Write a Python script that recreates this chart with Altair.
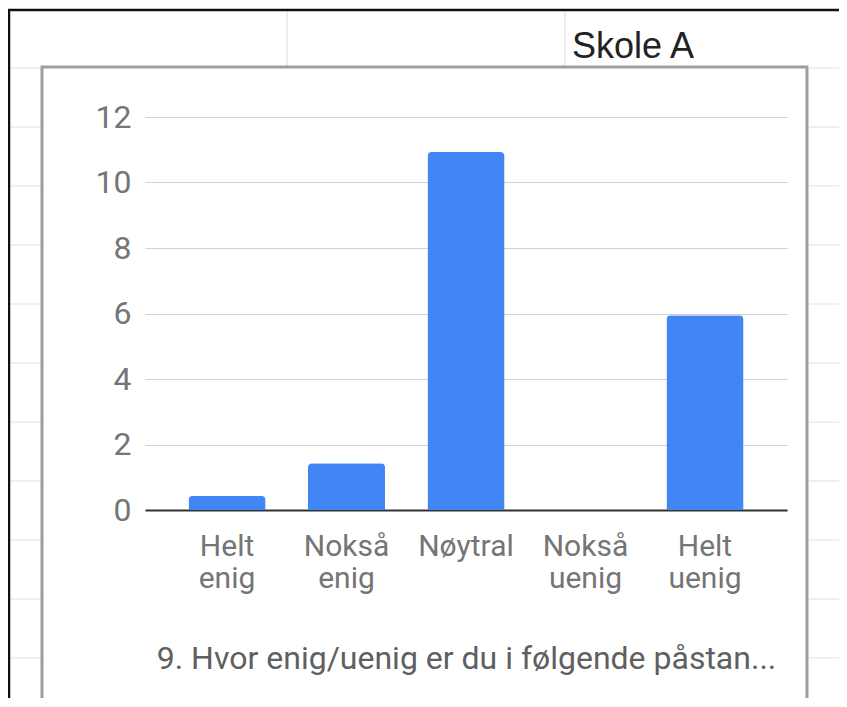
import altair as alt
import pandas as pd

# ---- data ----
categories = ["Helt enig", "Nokså enig", "Nøytral", "Nokså uenig", "Helt uenig"]
counts = [0.43, 1.43, 10.93, 0, 5.95]
y_ticks = [0, 2, 4, 6, 8, 10, 12]
x_title = "9. Hvor enig/uenig er du i følgende påstan..."
cell_text = "Skole A"

# ---- page geometry (plot area placed via padding) ----
PLOT_LEFT, PLOT_TOP = 145, 117      # page px of plot-area origin
W, H = 642, 393                     # plot area size
PAD_L, PAD_T = PLOT_LEFT - 8, PLOT_TOP - 8
TOTAL_W, TOTAL_H = 831, 690


def px(x):
    return x - PLOT_LEFT


def py(y):
    return y - PLOT_TOP


df = pd.DataFrame({"svar": categories, "antall": counts})

# ---- spreadsheet decoration (pixel positions, not data) ----
row_lines = [68, 127, 186, 245, 304, 363, 422, 481, 540, 599, 658]
grid_segs = []
for r in row_lines:
    grid_segs.append((px(8), px(41), py(r), py(r)))
    grid_segs.append((px(809), px(847), py(r), py(r)))
for c in [287, 565]:
    grid_segs.append((px(c), px(c), py(10), py(66)))
grid_df = pd.DataFrame(grid_segs, columns=["x", "x2", "y", "y2"])

black_df = pd.DataFrame(
    [(px(8), px(847), py(10), py(10)), (px(9), px(9), py(10), py(707))],
    columns=["x", "x2", "y", "y2"],
)


def seg_layer(d, color, width):
    return alt.Chart(d).mark_rule(color=color, strokeWidth=width).encode(
        x=alt.X("x:Q", scale=None, axis=None),
        x2="x2:Q",
        y=alt.Y("y:Q", scale=None, axis=None),
        y2="y2:Q",
    )


sheet_grid = seg_layer(grid_df, "#e2e2e2", 1.2)
sheet_black = seg_layer(black_df, "#111111", 2.5)

cell = alt.Chart(pd.DataFrame({"t": [cell_text]})).mark_text(
    align="left", baseline="alphabetic", font="Liberation Sans",
    fontSize=36, color="#222222"
).encode(text="t:N", x=alt.value(px(572)), y=alt.value(py(58)))

frame = alt.Chart(pd.DataFrame({"a": [0]})).mark_rect(
    fillOpacity=0, stroke="#9e9e9e", strokeWidth=3
).encode(
    x=alt.value(px(42)), x2=alt.value(px(807)),
    y=alt.value(py(67)), y2=alt.value(py(760)),
)

bars = alt.Chart(df).mark_bar(
    color="#4285F4", cornerRadiusTopLeft=4, cornerRadiusTopRight=4
).encode(
    x=alt.X(
        "svar:N", sort=categories,
        scale=alt.Scale(paddingInner=0.355, paddingOuter=0.364),
        axis=alt.Axis(
            title=x_title, labelExpr="split(datum.label, ' ')",
            labelAngle=0, labelFont="Roboto", labelFontSize=30,
            labelColor="#757575", labelLineHeight=32, labelPadding=21,
            ticks=False, domainColor="#333333", domainWidth=2,
            titleFont="Roboto", titleFontSize=32, titleFontWeight="normal",
            titleColor="#5f5f5f", titlePadding=50,
        ),
    ),
    y=alt.Y(
        "antall:Q",
        scale=alt.Scale(domain=[0, 12], nice=False),
        axis=alt.Axis(
            values=y_ticks, title=None, domain=False, ticks=False,
            gridColor="#d0d0d0", gridWidth=1.1, labelFont="Roboto",
            labelFontSize=32, labelColor="#757575", labelPadding=14,
        ),
    ),
)

chart = alt.layer(sheet_grid, sheet_black, cell, frame, bars).resolve_scale(
    x="independent", y="independent"
).properties(
    width=W, height=H,
    autosize=alt.AutoSizeParams(type="none"),
    padding={"left": PAD_L, "top": PAD_T, "right": TOTAL_W - PAD_L - W,
             "bottom": TOTAL_H - PAD_T - H},
    background="white",
).configure_view(strokeOpacity=0)

chart.save("out.html", embed_options={"renderer": "svg", "actions": False})
